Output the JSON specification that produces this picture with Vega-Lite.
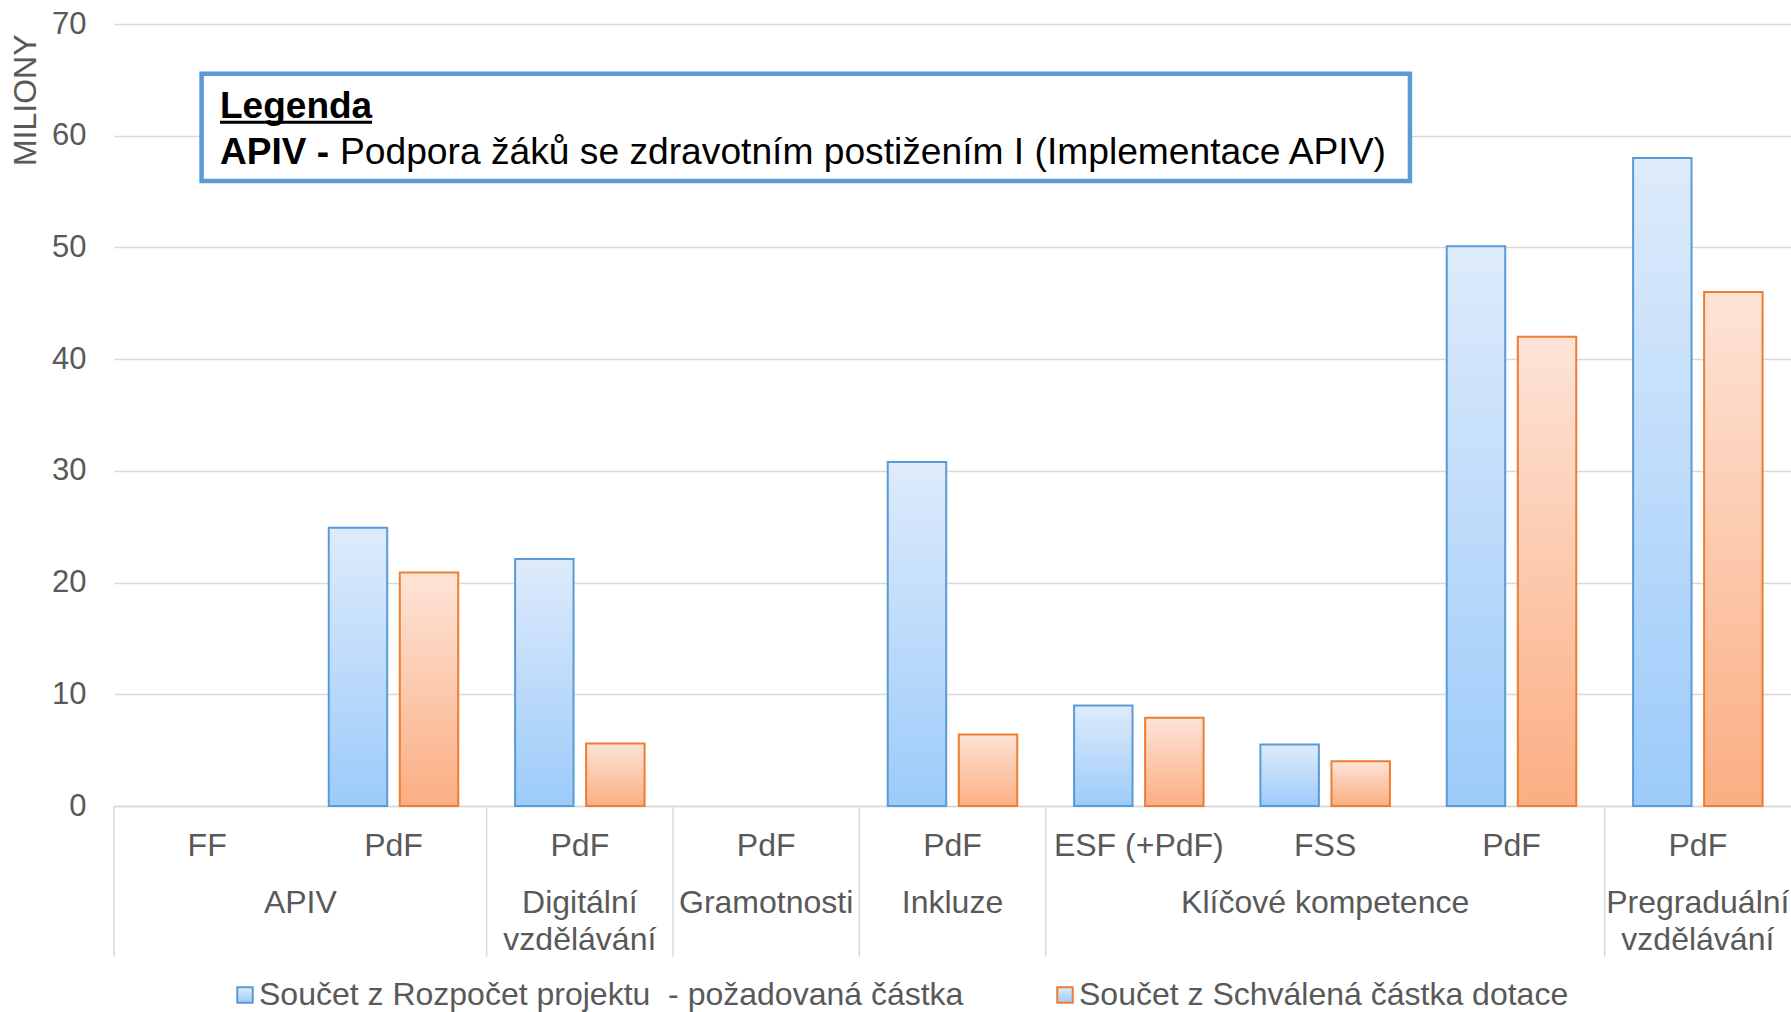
{
  "$schema": "https://vega.github.io/schema/vega-lite/v6.json",
  "width": 1677,
  "height": 782,
  "autosize": {"type": "none"},
  "padding": {"left": 114, "top": 24, "right": 0, "bottom": 206},
  "background": "white",
  "config": {
    "view": {"stroke": null},
    "font": "Liberation Sans"
  },
  "datasets": {
    "bars": [
      {"slot": "APIV|PdF", "series": "Součet z Rozpočet projektu  - požadovaná částka", "value": 24.9},
      {"slot": "APIV|PdF", "series": "Součet z Schválená částka dotace", "value": 20.9},
      {"slot": "Digitální vzdělávání|PdF", "series": "Součet z Rozpočet projektu  - požadovaná částka", "value": 22.1},
      {"slot": "Digitální vzdělávání|PdF", "series": "Součet z Schválená částka dotace", "value": 5.6},
      {"slot": "Inkluze|PdF", "series": "Součet z Rozpočet projektu  - požadovaná částka", "value": 30.8},
      {"slot": "Inkluze|PdF", "series": "Součet z Schválená částka dotace", "value": 6.4},
      {"slot": "Klíčové kompetence|ESF (+PdF)", "series": "Součet z Rozpočet projektu  - požadovaná částka", "value": 9.0},
      {"slot": "Klíčové kompetence|ESF (+PdF)", "series": "Součet z Schválená částka dotace", "value": 7.9},
      {"slot": "Klíčové kompetence|FSS", "series": "Součet z Rozpočet projektu  - požadovaná částka", "value": 5.5},
      {"slot": "Klíčové kompetence|FSS", "series": "Součet z Schválená částka dotace", "value": 4.0},
      {"slot": "Klíčové kompetence|PdF", "series": "Součet z Rozpočet projektu  - požadovaná částka", "value": 50.1},
      {"slot": "Klíčové kompetence|PdF", "series": "Součet z Schválená částka dotace", "value": 42.0},
      {"slot": "Pregraduální vzdělávání|PdF", "series": "Součet z Rozpočet projektu  - požadovaná částka", "value": 58.0},
      {"slot": "Pregraduální vzdělávání|PdF", "series": "Součet z Schválená částka dotace", "value": 46.0}
    ],
    "groups": [
      {"group": "APIV", "first": "APIV|FF", "anchor": "APIV|PdF"},
      {"group": "Digitální\nvzdělávání", "first": "Digitální vzdělávání|PdF", "anchor": "Digitální vzdělávání|PdF"},
      {"group": "Gramotnosti", "first": "Gramotnosti|PdF", "anchor": "Gramotnosti|PdF"},
      {"group": "Inkluze", "first": "Inkluze|PdF", "anchor": "Inkluze|PdF"},
      {"group": "Klíčové kompetence", "first": "Klíčové kompetence|ESF (+PdF)", "anchor": "Klíčové kompetence|FSS"},
      {"group": "Pregraduální\nvzdělávání", "first": "Pregraduální vzdělávání|PdF", "anchor": "Pregraduální vzdělávání|PdF"}
    ],
    "note": [
      {"title": "Legenda", "key": "APIV -", "desc": "Podpora žáků se zdravotním postižením I (Implementace APIV)"}
    ]
  },
  "layer": [
    {
      "layer": [
        {
          "data": {"name": "bars"},
          "transform": [{"filter": "datum.series === 'Součet z Rozpočet projektu  - požadovaná částka'"}],
          "mark": {"type": "bar", "strokeWidth": 2,
            "fill": {"gradient": "linear", "x1": 0, "y1": 0, "x2": 0, "y2": 1, "stops": [{"offset": 0, "color": "#DEEBFB"}, {"offset": 1, "color": "#9CCBFA"}]}},
          "encoding": {
            "x": {
              "field": "slot", "type": "nominal", "title": null,
              "scale": {"domain": ["APIV|FF", "APIV|PdF", "Digitální vzdělávání|PdF", "Gramotnosti|PdF", "Inkluze|PdF", "Klíčové kompetence|ESF (+PdF)", "Klíčové kompetence|FSS", "Klíčové kompetence|PdF", "Pregraduální vzdělávání|PdF"], "paddingInner": 0, "paddingOuter": 0},
              "axis": {
                "labelExpr": "split(datum.value, '|')[1]",
                "labelAngle": 0, "labelFontSize": 32, "labelColor": "#595959", "labelFont": "Liberation Sans",
                "labelPadding": 24, "labelLimit": 400,
                "ticks": false, "grid": false,
                "domain": true, "domainColor": "#D9D9D9", "domainWidth": 1.5
              }
            },
            "xOffset": {
              "field": "series", "type": "nominal",
              "scale": {"domain": ["Součet z Rozpočet projektu  - požadovaná částka", "Součet z Schválená částka dotace"], "paddingInner": 0.177, "paddingOuter": 0.4}
            },
            "y": {
              "field": "value", "type": "quantitative", "title": "MILIONY",
              "scale": {"domain": [0, 70], "nice": false},
              "axis": {
                "values": [0, 10, 20, 30, 40, 50, 60, 70],
                "grid": true, "gridColor": "#D9D9D9", "gridWidth": 1.5,
                "domain": false, "ticks": false,
                "labelFontSize": 31, "labelColor": "#595959", "labelFont": "Liberation Sans", "labelPadding": 28,
                "titleFontSize": 32, "titleFontWeight": "normal", "titleColor": "#595959", "titleFont": "Liberation Sans",
                "titleAnchor": "end", "titleY": 10, "titlePadding": 9
              }
            },
            "stroke": {
              "field": "series", "type": "nominal",
              "scale": {"domain": ["Součet z Rozpočet projektu  - požadovaná částka", "Součet z Schválená částka dotace"], "range": ["#5B9BD5", "#ED7D31"]},
              "legend": {
                "orient": "none", "legendX": 115, "legendY": 955, "direction": "horizontal", "title": null,
                "labelFontSize": 32, "labelColor": "#595959", "labelFont": "Liberation Sans", "labelLimit": 1000,
                "labelExpr": "replace(datum.label, '  ', '\u00a0 ')",
                "symbolType": "square", "symbolSize": 240, "symbolStrokeWidth": 2, "labelOffset": -2, "columnPadding": 85,
                "encode": {"symbols": {"update": {"fill": {"signal": "datum.value === 'Součet z Schválená částka dotace' ? '#FDCDB3' : '#C2DEFA'"}, "opacity": {"value": 1}}}}
              }
            }
          }
        },
        {
          "data": {"name": "bars"},
          "transform": [{"filter": "datum.series === 'Součet z Schválená částka dotace'"}],
          "mark": {"type": "bar", "strokeWidth": 2,
            "fill": {"gradient": "linear", "x1": 0, "y1": 0, "x2": 0, "y2": 1, "stops": [{"offset": 0, "color": "#FDE4D7"}, {"offset": 1, "color": "#FBAE83"}]}},
          "encoding": {
            "x": {
              "field": "slot", "type": "nominal", "title": null,
              "scale": {"domain": ["APIV|FF", "APIV|PdF", "Digitální vzdělávání|PdF", "Gramotnosti|PdF", "Inkluze|PdF", "Klíčové kompetence|ESF (+PdF)", "Klíčové kompetence|FSS", "Klíčové kompetence|PdF", "Pregraduální vzdělávání|PdF"], "paddingInner": 0, "paddingOuter": 0}
            },
            "xOffset": {
              "field": "series", "type": "nominal",
              "scale": {"domain": ["Součet z Rozpočet projektu  - požadovaná částka", "Součet z Schválená částka dotace"], "paddingInner": 0.177, "paddingOuter": 0.4}
            },
            "y": {"field": "value", "type": "quantitative", "scale": {"domain": [0, 70], "nice": false}},
            "stroke": {
              "field": "series", "type": "nominal",
              "scale": {"domain": ["Součet z Rozpočet projektu  - požadovaná částka", "Součet z Schválená částka dotace"], "range": ["#5B9BD5", "#ED7D31"]}
            }
          }
        },
        {
          "data": {"name": "groups"},
          "mark": {"type": "rule", "stroke": "#D9D9D9", "strokeWidth": 1.5},
          "encoding": {
            "x": {
              "field": "first", "type": "nominal", "title": null, "bandPosition": 0,
              "scale": {"domain": ["APIV|FF", "APIV|PdF", "Digitální vzdělávání|PdF", "Gramotnosti|PdF", "Inkluze|PdF", "Klíčové kompetence|ESF (+PdF)", "Klíčové kompetence|FSS", "Klíčové kompetence|PdF", "Pregraduální vzdělávání|PdF"], "paddingInner": 0, "paddingOuter": 0}
            },
            "y": {"datum": 0, "type": "quantitative", "scale": {"domain": [0, 70], "nice": false}},
            "y2": {"datum": -13.5}
          }
        },
        {
          "data": {"name": "groups"},
          "transform": [{"filter": "datum.group !== 'APIV'"}],
          "mark": {"type": "text", "fontSize": 32, "fill": "#595959", "font": "Liberation Sans", "baseline": "top", "align": "center", "lineBreak": "\n", "lineHeight": 37},
          "encoding": {
            "x": {
              "field": "anchor", "type": "nominal", "title": null, "bandPosition": 0.5,
              "scale": {"domain": ["APIV|FF", "APIV|PdF", "Digitální vzdělávání|PdF", "Gramotnosti|PdF", "Inkluze|PdF", "Klíčové kompetence|ESF (+PdF)", "Klíčové kompetence|FSS", "Klíčové kompetence|PdF", "Pregraduální vzdělávání|PdF"], "paddingInner": 0, "paddingOuter": 0}
            },
            "y": {"datum": -7.3, "type": "quantitative", "scale": {"domain": [0, 70], "nice": false}},
            "text": {"field": "group", "type": "nominal"}
          }
        },
        {
          "data": {"name": "groups"},
          "transform": [{"filter": "datum.group === 'APIV'"}],
          "mark": {"type": "text", "fontSize": 32, "fill": "#595959", "font": "Liberation Sans", "baseline": "top", "align": "center", "lineBreak": "\n", "lineHeight": 37},
          "encoding": {
            "x": {
              "field": "anchor", "type": "nominal", "title": null, "bandPosition": 0,
              "scale": {"domain": ["APIV|FF", "APIV|PdF", "Digitální vzdělávání|PdF", "Gramotnosti|PdF", "Inkluze|PdF", "Klíčové kompetence|ESF (+PdF)", "Klíčové kompetence|FSS", "Klíčové kompetence|PdF", "Pregraduální vzdělávání|PdF"], "paddingInner": 0, "paddingOuter": 0}
            },
            "y": {"datum": -7.3, "type": "quantitative", "scale": {"domain": [0, 70], "nice": false}},
            "text": {"field": "group", "type": "nominal"}
          }
        }
      ]
    },
    {
      "data": {"name": "note"},
      "layer": [
        {
          "mark": {"type": "rect", "fill": "white", "stroke": "#5B9BD5", "strokeWidth": 4.5},
          "encoding": {
            "x": {"datum": 0.47, "type": "quantitative", "scale": {"domain": [0, 9], "nice": false, "zero": false}, "axis": null},
            "x2": {"datum": 6.955},
            "y": {"datum": 65.55, "type": "quantitative", "scale": {"domain": [0, 70], "nice": false}},
            "y2": {"datum": 55.95}
          }
        },
        {
          "mark": {"type": "text", "fontSize": 37, "fontWeight": "bold", "fill": "black", "font": "Liberation Sans", "baseline": "alphabetic", "align": "left"},
          "encoding": {
            "x": {"datum": 0.569, "type": "quantitative", "scale": {"domain": [0, 9], "nice": false, "zero": false}, "axis": null},
            "y": {"datum": 61.6, "type": "quantitative", "scale": {"domain": [0, 70], "nice": false}},
            "text": {"field": "title", "type": "nominal"}
          }
        },
        {
          "mark": {"type": "rule", "stroke": "black", "strokeWidth": 3},
          "encoding": {
            "x": {"datum": 0.569, "type": "quantitative", "scale": {"domain": [0, 9], "nice": false, "zero": false}, "axis": null},
            "x2": {"datum": 1.385},
            "y": {"datum": 61.2, "type": "quantitative", "scale": {"domain": [0, 70], "nice": false}}
          }
        },
        {
          "mark": {"type": "text", "fontSize": 37, "fontWeight": "bold", "fill": "black", "font": "Liberation Sans", "baseline": "alphabetic", "align": "left"},
          "encoding": {
            "x": {"datum": 0.569, "type": "quantitative", "scale": {"domain": [0, 9], "nice": false, "zero": false}, "axis": null},
            "y": {"datum": 57.43, "type": "quantitative", "scale": {"domain": [0, 70], "nice": false}},
            "text": {"field": "key", "type": "nominal"}
          }
        },
        {
          "mark": {"type": "text", "fontSize": 37.2, "fill": "black", "font": "Liberation Sans", "baseline": "alphabetic", "align": "left"},
          "encoding": {
            "x": {"datum": 1.213, "type": "quantitative", "scale": {"domain": [0, 9], "nice": false, "zero": false}, "axis": null},
            "y": {"datum": 57.43, "type": "quantitative", "scale": {"domain": [0, 70], "nice": false}},
            "text": {"field": "desc", "type": "nominal"}
          }
        }
      ]
    }
  ],
  "resolve": {"scale": {"x": "independent"}}
}
